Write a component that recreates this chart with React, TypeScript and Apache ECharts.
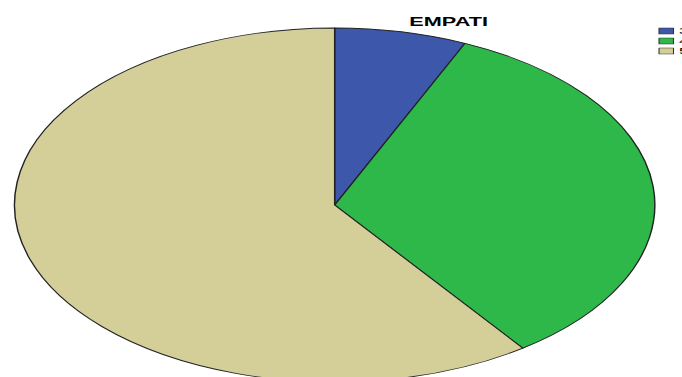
import React, { useEffect, useRef } from "react";
import * as echarts from "echarts";

const categories = ["3", "4", "5"];
const values = [2, 10, 18];
const colors = ["#3D57AB", "#2EB84A", "#D4CE98"];
const titleText = "EMPATI";

const STRETCH = 682 / 377;

export default function App() {
  const ref = useRef<HTMLDivElement>(null);
  useEffect(() => {
    if (!ref.current) return;
    const chart = echarts.init(ref.current, null, { renderer: "svg" });
    chart.setOption({
      animation: false,
      backgroundColor: "#ffffff",
      title: {
        text: titleText,
        left: 243,
        top: 11,
        textAlign: "center",
        textStyle: {
          fontFamily: "Liberation Sans, Arial, sans-serif",
          fontSize: 12,
          fontWeight: "bold",
          color: "#000",
        },
      },
      legend: {
        orient: "vertical",
        left: 364,
        top: 26,
        icon: "rect",
        itemWidth: 8,
        itemHeight: 6,
        itemGap: 0,
        padding: 0,
        itemStyle: { borderColor: "#333", borderWidth: 0.6 },
        textStyle: {
          fontFamily: "Liberation Sans, Arial, sans-serif",
          fontSize: 9,
          lineHeight: 10,
          height: 10,
          color: "#000",
          padding: [0, 0, 0, -2],
        },
        data: categories,
      },
      series: [
        {
          type: "pie",
          center: [185, 205],
          radius: [0, 177],
          startAngle: 90,
          clockwise: true,
          label: { show: false },
          labelLine: { show: false },
          emphasis: { disabled: true },
          itemStyle: { borderColor: "#222", borderWidth: 0.8 },
          data: categories.map((c, i) => ({
            name: c,
            value: values[i],
            itemStyle: { color: colors[i] },
          })),
        },
      ],
    });
    return () => chart.dispose();
  }, []);
  return (
    <div
      style={{
        position: "fixed",
        left: 0,
        top: 0,
        width: 682,
        height: 377,
        overflow: "hidden",
        background: "#fff",
      }}
    >
      <div
        ref={ref}
        style={{
          width: 377,
          height: 377,
          transform: `scaleX(${STRETCH})`,
          transformOrigin: "0 0",
        }}
      />
    </div>
  );
}
